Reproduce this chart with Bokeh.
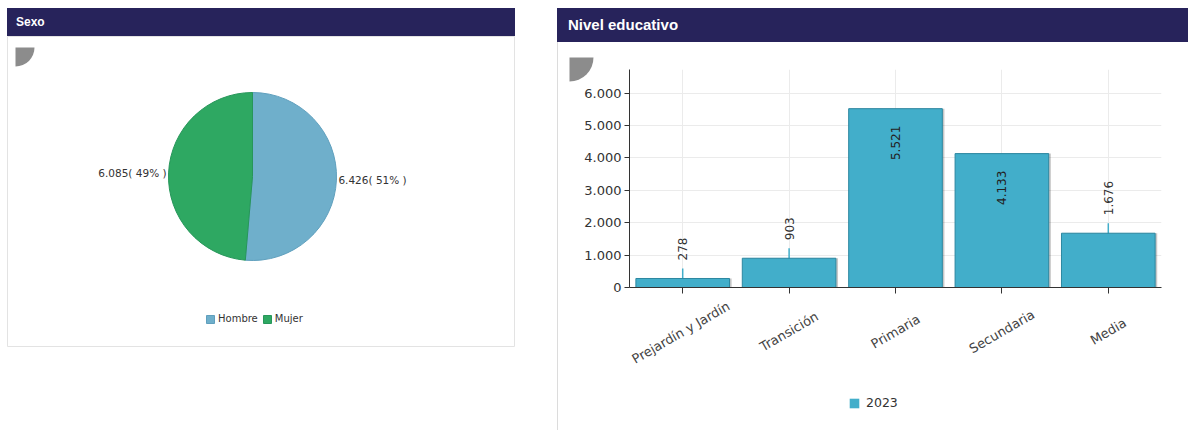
import math
from bokeh.plotting import figure
from bokeh.layouts import row, column
from bokeh.models import (Div, ColumnDataSource, FactorRange, Range1d, Legend,
                          LegendItem, FixedTicker, CustomJSTickFormatter, Spacer)
from bokeh.transform import dodge
from bokeh.core.properties import value
from bokeh.embed import file_html
from bokeh.resources import INLINE

# ---------------- data ----------------
sexo_cats = ["Hombre", "Mujer"]
sexo_vals = [6426, 6085]
sexo_colors = ["#6FAFCB", "#2EA862"]
sexo_lines = ["#5F9FBD", "#27965A"]

niveles = ["Prejardín y  Jardín", "Transición", "Primaria", "Secundaria", "Media"]
matricula_2023 = [278, 903, 5521, 4133, 1676]
y_ticks = [0, 1000, 2000, 3000, 4000, 5000, 6000]
serie = "2023"

HEADER_BG = "#27235B"
FONT = "DejaVu Sans"
TXT = "#333333"


def fmt(n):
    return f"{n:,}".replace(",", ".")


# ---------------- left panel: pie ----------------
PW, PH = 508, 311
pie = figure(width=PW, height=PH, x_range=Range1d(0, PW), y_range=Range1d(0, PH),
             x_axis_type=None, y_axis_type=None, output_backend="svg",
             toolbar_location=None, min_border=0, margin=0)
pie.grid.visible = False
pie.outline_line_color = "#e3e3e3"
pie.background_fill_color = "white"

cx, cy, r = 245, 171, 84
total = sum(sexo_vals)
starts, ends, lx, ly, labels, aligns = [], [], [], [], [], []
acc = 0.0
for v in sexo_vals:
    a0 = math.pi / 2 - acc / total * 2 * math.pi
    acc += v
    a1 = math.pi / 2 - acc / total * 2 * math.pi
    m = (a0 + a1) / 2
    starts.append(a0)
    ends.append(a1)
    lx.append(cx + (r + 2) * math.cos(m))
    ly.append(cy + (r + 2) * math.sin(m))
    labels.append(f"{fmt(v)}( {round(v / total * 100)}% )")
    aligns.append("left" if math.cos(m) >= 0 else "right")

pie_src = ColumnDataSource(dict(cat=sexo_cats, val=sexo_vals, start=starts, end=ends,
                                color=sexo_colors, line=sexo_lines,
                                lx=lx, ly=ly, label=labels, align=aligns))
wedges = pie.wedge(x=cx, y=cy, radius=r, start_angle="start", end_angle="end",
                   direction="clock", fill_color="color", line_color="line",
                   line_width=1, source=pie_src)
pie.text(x="lx", y="ly", text="label", text_align="align", text_baseline="middle",
         text_font=value(FONT), text_font_size="10.5px", text_color=TXT, source=pie_src)

# small collapse icon
pie.wedge(x=8, y=PH - 11, radius=19, start_angle=0, end_angle=-math.pi / 2,
          direction="clock", fill_color="#8C8C8C", line_color=None)

pie_items = [LegendItem(label=c, renderers=[wedges], index=i) for i, c in enumerate(sexo_cats)]
pie_leg = Legend(items=pie_items, location=(198, 23), orientation="horizontal",
                 glyph_width=10, glyph_height=10, label_standoff=3, spacing=4,
                 padding=0, margin=0, border_line_color=None, background_fill_alpha=0,
                 label_text_font=FONT, label_text_font_size="10px",
                 label_text_color=TXT, label_height=10)
pie.add_layout(pie_leg)

left_header = Div(text='<div style="padding-left:9px;line-height:28px;">Sexo</div>',
                  width=PW, height=28, margin=0,
                  styles={"background-color": HEADER_BG, "color": "white",
                          "font-family": "Liberation Sans", "font-weight": "bold",
                          "font-size": "12px"})
left_panel = column(left_header, pie, spacing=0, margin=0)

# ---------------- right panel: bars ----------------
BW, BH = 630, 348
ML, MR, MT, MB = 71, 27, 27, 103
bar = figure(width=BW, height=BH, x_range=FactorRange(*niveles),
             y_range=Range1d(0, 6730), output_backend="svg", toolbar_location=None,
             min_border_left=ML, min_border_right=MR, min_border_top=MT,
             min_border_bottom=MB, margin=0)
bar.outline_line_color = None
bar.extra_y_ranges = {"py": Range1d(0, BH - MT - MB)}

BAR_FILL = "#42AECA"
BAR_LINE = "#2C87A0"

outside = [v < 3000 for v in matricula_2023]
src = ColumnDataSource(dict(cat=niveles, val=matricula_2023,
                            label=[fmt(v) for v in matricula_2023]))
out_src = ColumnDataSource(dict(
    cat=[c for c, o in zip(niveles, outside) if o],
    val=[v for v, o in zip(matricula_2023, outside) if o],
    label=[fmt(v) for v, o in zip(matricula_2023, outside) if o]))
in_src = ColumnDataSource(dict(
    cat=[c for c, o in zip(niveles, outside) if not o],
    val=[v for v, o in zip(matricula_2023, outside) if not o],
    label=[fmt(v) for v, o in zip(matricula_2023, outside) if not o]))

# leader ticks above small bars
bar.rect(x="cat", y="val", width=1.5, height=20, width_units="screen",
         height_units="screen", fill_color=BAR_FILL, line_color=None, source=out_src)
# shadow
bar.vbar(x=dodge("cat", 0.02, range=bar.x_range), top="val", width=0.88,
         fill_color="#000000", fill_alpha=0.22, line_color=None, source=src)
bars = bar.vbar(x="cat", top="val", width=0.88, fill_color=BAR_FILL, line_color=BAR_LINE,
                line_width=1, source=src)

bar.text(x="cat", y="val", text="label", angle=math.pi / 2, y_offset=-18,
         text_align="left", text_baseline="middle", text_font=value(FONT),
         text_font_size="12px", text_color=TXT, source=out_src)
bar.text(x="cat", y="val", text="label", angle=math.pi / 2, y_offset=17,
         text_align="right", text_baseline="middle", text_font=value(FONT),
         text_font_size="12px", text_color="#222222", source=in_src)

# axes
bar.yaxis.ticker = FixedTicker(ticks=y_ticks)
bar.yaxis.formatter = CustomJSTickFormatter(
    code="return tick.toString().replace(/\\B(?=(\\d{3})+(?!\\d))/g, '.');")
bar.yaxis.minor_tick_line_color = None
bar.yaxis.major_tick_in = 0
bar.yaxis.major_tick_out = 5
bar.yaxis.major_label_standoff = 3
bar.yaxis.axis_line_color = "#333333"
bar.yaxis.major_tick_line_color = "#333333"
bar.yaxis.major_label_text_font = FONT
bar.yaxis.major_label_text_font_size = "13px"
bar.yaxis.major_label_text_color = TXT

bar.xaxis.major_tick_in = 0
bar.xaxis.major_tick_out = 6
bar.xaxis.axis_line_color = "#333333"
bar.xaxis.major_tick_line_color = "#333333"
bar.xaxis.major_label_text_font_size = "0px"
bar.xaxis.major_label_text_alpha = 0

bar.xgrid.grid_line_color = "#ebebeb"
bar.ygrid.grid_line_color = "#ebebeb"

# rotated category labels, centred under each tick (drawn above the frame clip)
bar.text(x="cat", y=0, text="cat", source=src, angle=math.pi / 6, y_offset=44,
         text_align="center", text_baseline="middle", text_font=value(FONT),
         text_font_size="13px", text_color="#444444", level="overlay")

# collapse icon (outside the frame)
icon_src = ColumnDataSource(dict(c=[niveles[0]], y=[230]))
bar.wedge(x=dodge("c", -1.064, range=bar.x_range), y="y", radius=24,
          radius_units="screen", start_angle=0, end_angle=-math.pi / 2,
          direction="clock", fill_color="#8C8C8C", line_color=None,
          y_range_name="py", level="overlay", source=icon_src)

# legend strip below the chart (its frame is aligned with the chart's frame)
LH = 40
legfig = figure(width=BW, height=LH, x_range=FactorRange(*niveles), y_range=Range1d(-2, -1),
                x_axis_type=None, y_axis_type=None, output_backend="svg",
                toolbar_location=None, min_border=0, margin=0)
legfig.grid.visible = False
legfig.outline_line_color = None
leg_bars = legfig.vbar(x="cat", top="val", width=0.88, fill_color=BAR_FILL,
                       line_color=None, source=src, visible=False)
bar_leg = Legend(items=[LegendItem(label=serie, renderers=[leg_bars], index=0)],
                 location=(219, 20), orientation="horizontal",
                 glyph_width=12, glyph_height=12, label_standoff=6, padding=0,
                 margin=0, spacing=0, border_line_color=None, background_fill_alpha=0,
                 inactive_fill_alpha=0,
                 label_text_font=FONT, label_text_font_size="12.5px",
                 label_text_color=TXT, label_height=12)
legfig.add_layout(bar_leg)

right_header = Div(text='<div style="padding-left:11px;line-height:34px;">Nivel educativo</div>',
                   width=BW + 1, height=34, margin=0,
                   styles={"background-color": HEADER_BG, "color": "white",
                           "font-family": "Liberation Sans", "font-weight": "bold",
                           "font-size": "15px"})
vline = Div(text="", width=1, height=BH + LH, margin=0, styles={"background-color": "#dcdcdc"})
right_panel = column(right_header,
                     row(vline, column(bar, legfig, spacing=0, margin=0), spacing=0, margin=0),
                     spacing=0, margin=0)

layout = row(left_panel, Spacer(width=42, height=10, margin=0), right_panel,
             spacing=0, margin=(8, 0, 0, 7))

with open("out.html", "w") as f:
    f.write(file_html(layout, INLINE))
